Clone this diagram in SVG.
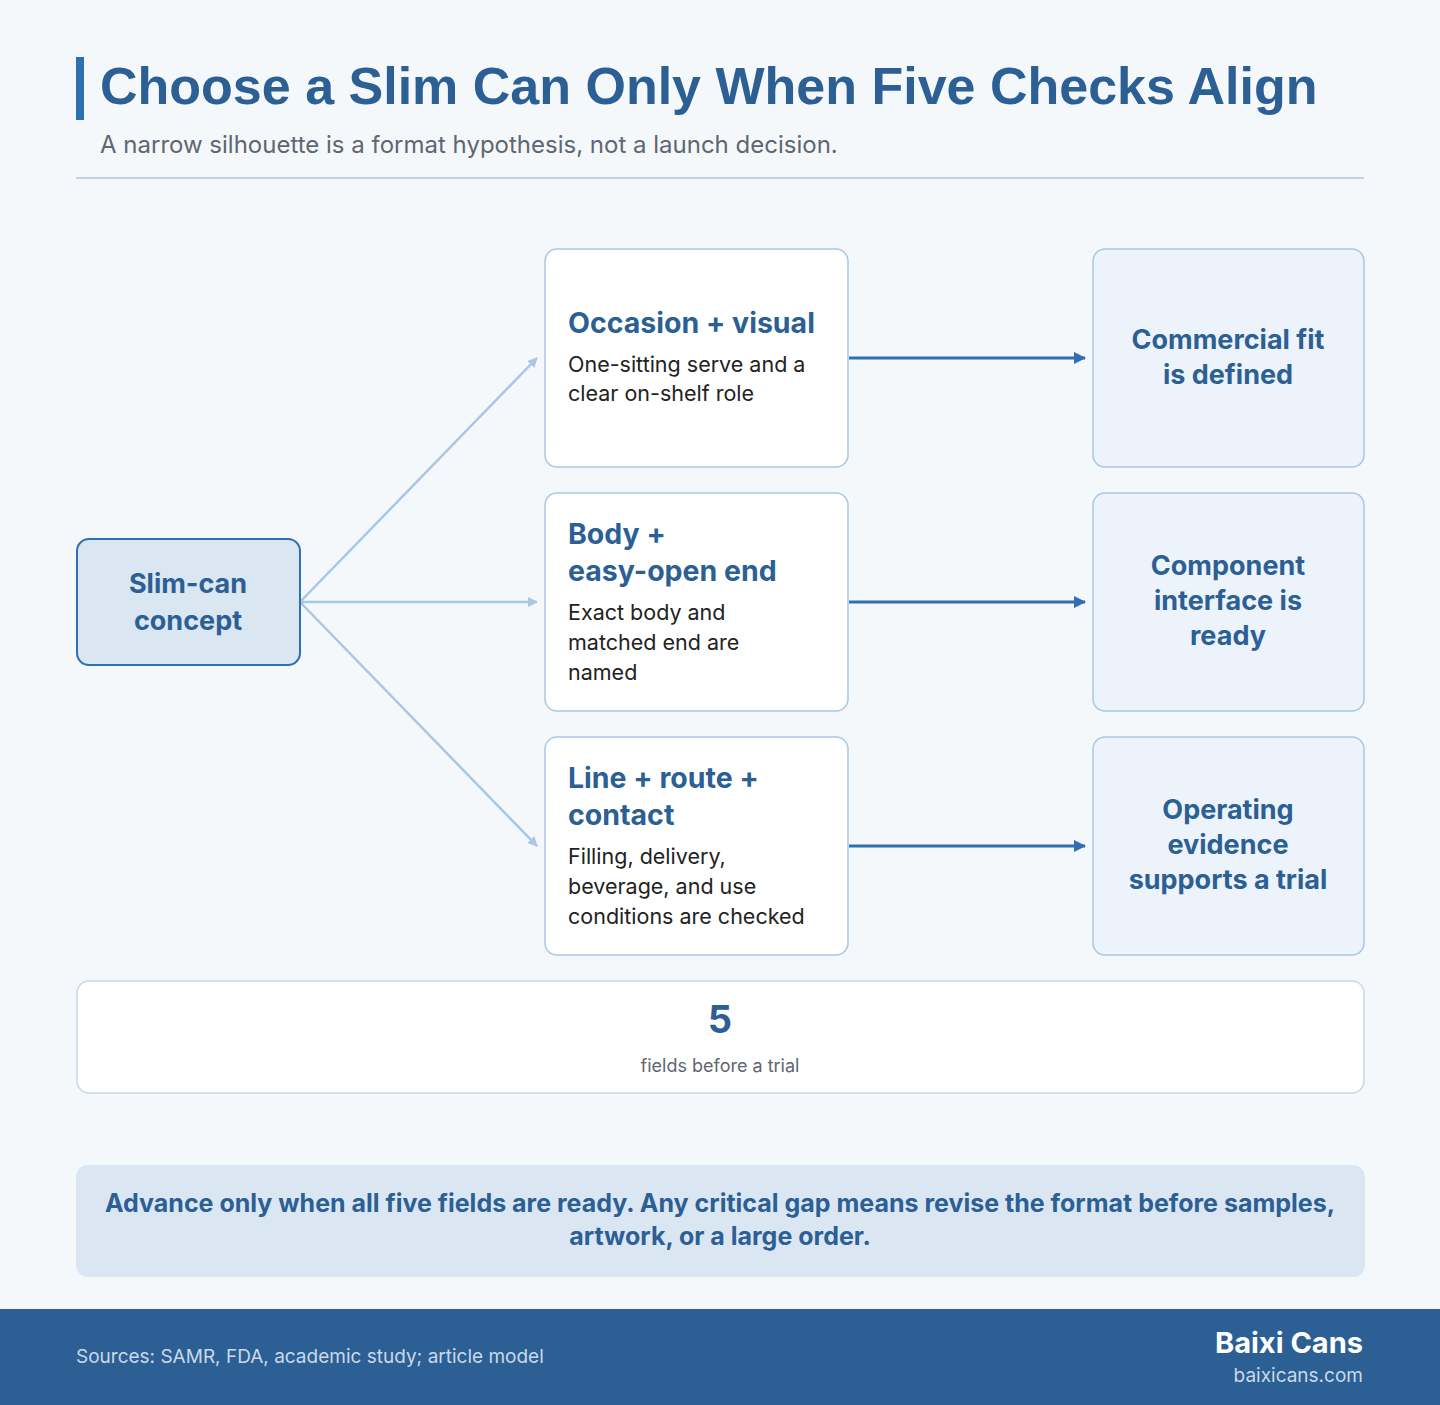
<svg xmlns="http://www.w3.org/2000/svg" width="1440" height="1405" viewBox="0 0 1440 1405">
<style>
text{font-family:Inter,"Liberation Sans",Arial,sans-serif}
.h{font-weight:bold;fill:#2c5f94;font-size:28.5px}
.b{fill:#222;font-size:21.5px}
.c{stroke:#a9c6e4;stroke-width:2.5;fill:none}
.d{stroke:#2f6fb3;stroke-width:3;fill:none}
.card{fill:#fff;stroke:#a9c6e4;stroke-width:1.5}
.out{fill:#edf3fa;stroke:#a9c6e4;stroke-width:1.5}
.o{font-weight:bold;fill:#2c5f94;font-size:27px;text-anchor:middle}
</style>
<defs>
<marker id="ml" markerWidth="10" markerHeight="10" refX="9" refY="5" orient="auto" markerUnits="userSpaceOnUse" viewBox="0 0 10 10"><path d="M0,0L10,5L0,10z" fill="#a9c6e4"/></marker>
<marker id="md" markerWidth="12" markerHeight="12" refX="11" refY="6" orient="auto" markerUnits="userSpaceOnUse" viewBox="0 0 12 12"><path d="M0,0L12,6L0,12z" fill="#2f6fb3"/></marker>
</defs>
<rect width="1440" height="1405" fill="#f4f8fb"/>
<rect x="76" y="57" width="8" height="63" fill="#2f6fb3"/>
<text x="100" y="104" style="font-family:'Liberation Sans',Arial,sans-serif;font-size:52px;font-weight:bold;fill:#2c5f94">Choose a Slim Can Only When Five Checks Align</text>
<text x="100" y="153" style="font-size:24px;fill:#5f6670">A narrow silhouette is a format hypothesis, not a launch decision.</text>
<line x1="76" y1="178" x2="1364" y2="178" stroke="#a9c6e4" stroke-width="1.5"/>
<g id="connectors">
<path class="c" d="M300,602L537,358" marker-end="url(#ml)"/>
<path class="c" d="M300,602L537,602" marker-end="url(#ml)"/>
<path class="c" d="M300,602L537,846" marker-end="url(#ml)"/>
<path class="d" d="M849,358L1085,358" marker-end="url(#md)"/>
<path class="d" d="M849,602L1085,602" marker-end="url(#md)"/>
<path class="d" d="M849,846L1085,846" marker-end="url(#md)"/>
</g>
<g id="concept"><rect x="77" y="539" width="223" height="126" rx="12" fill="#dae6f2" stroke="#2f6fb3" stroke-width="2"/>
<text class="o" x="188" y="593">Slim-can</text><text class="o" x="188" y="630">concept</text></g>
<g id="n1"><rect class="card" x="545" y="249" width="303" height="218" rx="12"/>
<text class="h" x="568" y="333">Occasion + visual</text>
<text class="b" x="568" y="372">One-sitting serve and a</text><text class="b" x="568" y="401">clear on-shelf role</text></g>
<g id="n2"><rect class="card" x="545" y="493" width="303" height="218" rx="12"/>
<text class="h" x="568" y="544">Body +</text><text class="h" x="568" y="581">easy-open end</text>
<text class="b" x="568" y="620">Exact body and</text><text class="b" x="568" y="650">matched end are</text><text class="b" x="568" y="680">named</text></g>
<g id="n3"><rect class="card" x="545" y="737" width="303" height="218" rx="12"/>
<text class="h" x="568" y="788">Line + route +</text><text class="h" x="568" y="825">contact</text>
<text class="b" x="568" y="864">Filling, delivery,</text><text class="b" x="568" y="894">beverage, and use</text><text class="b" x="568" y="924">conditions are checked</text></g>
<g id="r1"><rect class="out" x="1093" y="249" width="271" height="218" rx="12"/>
<text class="o" x="1228" y="349">Commercial fit</text><text class="o" x="1228" y="384">is defined</text></g>
<g id="r2"><rect class="out" x="1093" y="493" width="271" height="218" rx="12"/>
<text class="o" x="1228" y="575">Component</text><text class="o" x="1228" y="610">interface is</text><text class="o" x="1228" y="645">ready</text></g>
<g id="r3"><rect class="out" x="1093" y="737" width="271" height="218" rx="12"/>
<text class="o" x="1228" y="819">Operating</text><text class="o" x="1228" y="854">evidence</text><text class="o" x="1228" y="889">supports a trial</text></g>
<g id="stat"><rect x="77" y="981" width="1287" height="112" rx="12" fill="#fff" stroke="#c5d8ec" stroke-width="1.5"/>
<text x="720" y="1033" style="font-size:38px;font-weight:bold;fill:#2c5f94;text-anchor:middle">5</text>
<text x="720" y="1072" style="font-size:18px;fill:#5f6670;text-anchor:middle">fields before a trial</text></g>
<g id="note"><rect x="76" y="1165" width="1289" height="112" rx="12" fill="#dae6f2"/>
<text x="720" y="1212" style="font-size:25px;font-weight:bold;fill:#2c5f94;text-anchor:middle">Advance only when all five fields are ready. Any critical gap means revise the format before samples,</text>
<text x="720" y="1245" style="font-size:25px;font-weight:bold;fill:#2c5f94;text-anchor:middle">artwork, or a large order.</text></g>
<rect x="0" y="1309" width="1440" height="96" fill="#2c5f94"/>
<text x="76" y="1363" style="font-size:19px;fill:#c9d9ea">Sources: SAMR, FDA, academic study; article model</text>
<text x="1363" y="1353" style="font-size:29px;font-weight:bold;fill:#fff;text-anchor:end">Baixi Cans</text>
<text x="1363" y="1382" style="font-size:19px;fill:#c9d9ea;text-anchor:end">baixicans.com</text>
</svg>
